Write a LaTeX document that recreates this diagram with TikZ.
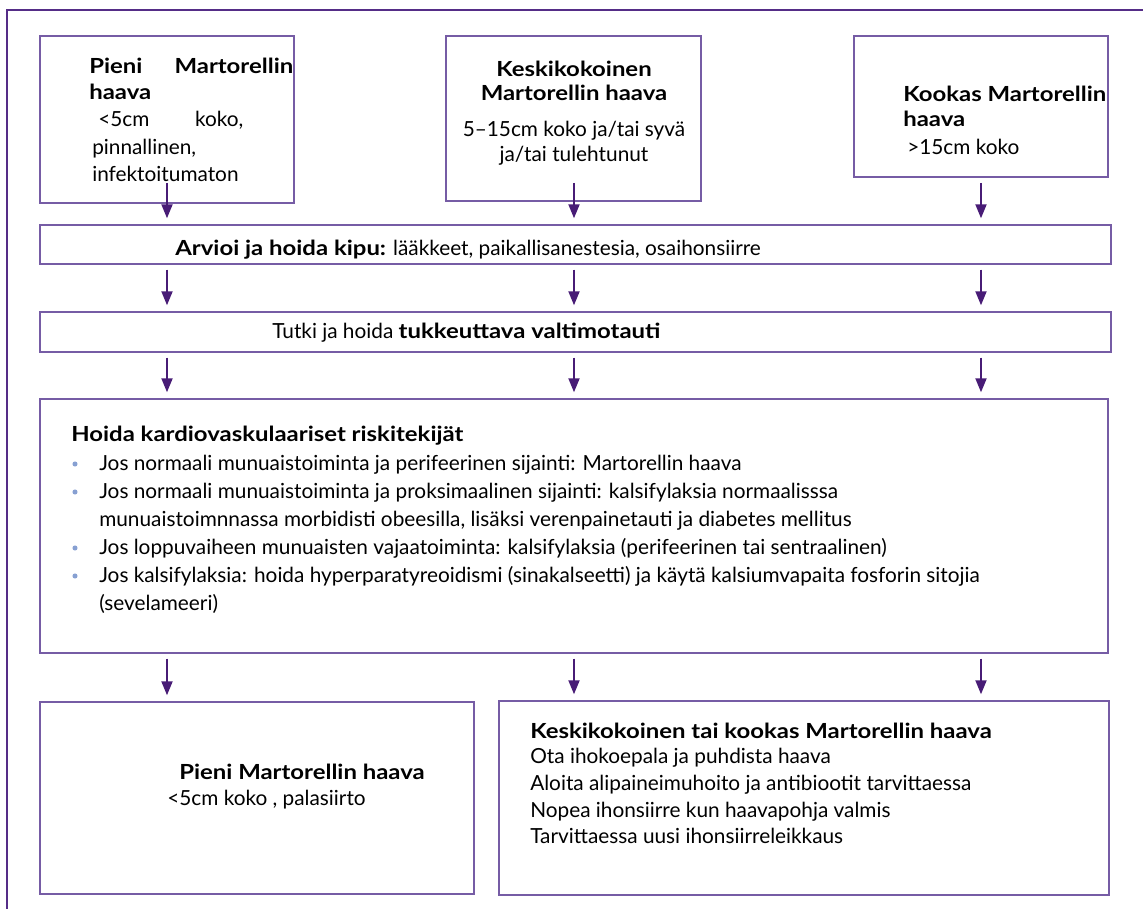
\documentclass[tikz,border=0pt]{standalone}
\usepackage{fontspec}
\setmainfont{Lato}[BoldFeatures={FakeStretch=1.15}]
\usetikzlibrary{arrows.meta,fit}
\definecolor{boxc}{RGB}{118,92,165}
\definecolor{arrowc}{RGB}{72,28,118}
\definecolor{framec}{RGB}{85,45,135}
\definecolor{bulc}{RGB}{135,160,210}
\newcommand{\fsz}{\fontsize{15.6pt}{20pt}\selectfont}
\begin{document}
\begin{tikzpicture}[x=0.75pt,y=-0.75pt,
 box/.style={draw=boxc,line width=1.1pt,inner sep=0pt},
 arr/.style={draw=arrowc,line width=1.5pt,-{Triangle[length=10.5pt,width=8.25pt]},shorten <=3.75pt,shorten >=4.5pt},
 txt/.style={inner sep=0pt,font=\fsz,text=black},
 bul/.style={circle,fill=bulc,inner sep=0pt,minimum size=3.8pt}]
\useasboundingbox (0,0) rectangle (1143,909);
\fill[white] (0,0) rectangle (1143,909);
\draw[framec,line width=1.1pt] (7,909) -- (7,10) -- (1143,10);
% boxes
\node[box,fit={(40,36) (294,203)}] (b1) {};
\node[box,fit={(446,36) (701,201)}] (b2) {};
\node[box,fit={(854,36) (1108,177)}] (b3) {};
\node[box,fit={(40,225) (1111,264)}] (arv) {};
\node[box,fit={(40,312) (1111,352)}] (tut) {};
\node[box,fit={(40,399) (1108,653)}] (big) {};
\node[box,fit={(40,702) (474,894)}] (bl) {};
\node[box,fit={(499,701) (1109,895)}] (br) {};
% column coordinates
\coordinate (c1) at (167,183);
\coordinate (c2) at (574,183);
\coordinate (c3) at (981,183);
% box 1 text
\node[txt,anchor=base west] (t1a) at (89,74) {\makebox[153pt][l]{\textbf{Pieni}\hfill\textbf{Martorellin}}};
\node[txt,anchor=base west] (t1b) at (89,100) {\textbf{haava}};
\node[txt,anchor=base west] (t1c) at (98,127) {\makebox[108.75pt][l]{<5cm\hfill koko,}};
\node[txt,anchor=base west] (t1d) at (92,155) {pinnallinen,};
\node[txt,anchor=base west] (t1e) at (92,182) {infektoitumaton};
% box 2 text
\node[txt,anchor=base] (t2a) at (574,77) {\textbf{Keskikokoinen}};
\node[txt,anchor=base] (t2b) at (574,101) {\textbf{Martorellin haava}};
\node[txt,anchor=base] (t2c) at (574,137) {5–15cm koko ja/tai syvä};
\node[txt,anchor=base] (t2d) at (574,162) {ja/tai tulehtunut};
% box 3 text
\node[txt,anchor=base west] (t3a) at (903,102) {\textbf{Kookas Martorellin}};
\node[txt,anchor=base west] (t3b) at (903,127) {\textbf{haava}};
\node[txt,anchor=base west] (t3c) at (907,155) {>15cm koko};
% pain / artery
\node[txt,anchor=base west] (tarv) at (175,256) {\textbf{Arvioi ja hoida kipu:} lääkkeet, paikallisanestesia, osaihonsiirre};
\node[txt,anchor=base west] (ttut) at (272,339) {Tutki ja hoida \textbf{tukkeuttava valtimotauti}};
% big box
\node[txt,anchor=base west] (th) at (71,441) {\textbf{Hoida kardiovaskulaariset riskitekijät}};
\node[txt,anchor=base west] (l1) at (99,470) {Jos normaali munuaistoiminta ja perifeerinen sijainti: Martorellin haava};
\node[txt,anchor=base west] (l2) at (99,498) {Jos normaali munuaistoiminta ja proksimaalinen sijainti: kalsifylaksia normaalisssa};
\node[txt,anchor=base west] (l3) at (99,526) {munuaistoimnnassa morbidisti obeesilla, lisäksi verenpainetauti ja diabetes mellitus};
\node[txt,anchor=base west] (l4) at (99,554) {Jos loppuvaiheen munuaisten vajaatoiminta: kalsifylaksia (perifeerinen tai sentraalinen)};
\node[txt,anchor=base west] (l5) at (99,582) {Jos kalsifylaksia: hoida hyperparatyreoidismi (sinakalseetti) ja käytä kalsiumvapaita fosforin sitojia};
\node[txt,anchor=base west] (l6) at (99,610) {(sevelameeri)};
\node[bul] (u1) at (75,464) {};
\node[bul] (u2) at (75,492) {};
\node[bul] (u4) at (75,548) {};
\node[bul] (u5) at (75,576) {};
% bottom left
\node[txt,anchor=base west] (tbl1) at (179,779) {\textbf{Pieni Martorellin haava}};
\node[txt,anchor=base west] (tbl2) at (167,805) {<5cm koko , palasiirto};
% bottom right
\node[txt,anchor=base west] (tbr1) at (530,738) {\textbf{Keskikokoinen tai kookas Martorellin haava}};
\node[txt,anchor=base west] (tbr2) at (530,763) {Ota ihokoepala ja puhdista haava};
\node[txt,anchor=base west] (tbr3) at (530,790) {Aloita alipaineimuhoito ja antibiootit tarvittaessa};
\node[txt,anchor=base west] (tbr4) at (530,817) {Nopea ihonsiirre kun haavapohja valmis};
\node[txt,anchor=base west] (tbr5) at (530,843) {Tarvittaessa uusi ihonsiirreleikkaus};
% arrows
\foreach \c in {c1,c2,c3}{
  \draw[arr,shorten <=0pt] (\c) -- (\c |- arv.north);
  \draw[arr] (\c |- arv.south) -- (\c |- tut.north);
  \draw[arr] (\c |- tut.south) -- (\c |- big.north);
}
\draw[arr] (c1 |- big.south) -- (c1 |- bl.north);
\draw[arr] (c2 |- big.south) -- (c2 |- br.north);
\draw[arr] (c3 |- big.south) -- (c3 |- br.north);
\end{tikzpicture}
\end{document}
